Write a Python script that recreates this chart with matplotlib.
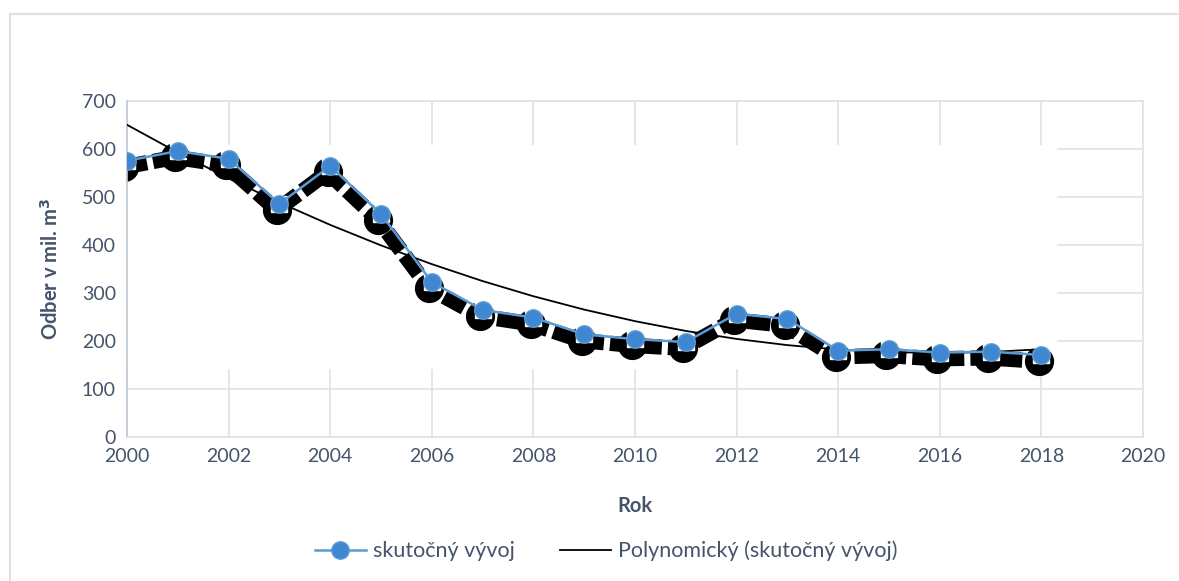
import numpy as np
import matplotlib
matplotlib.use("Agg")
from matplotlib import pyplot as plt
from matplotlib.lines import Line2D
from matplotlib.patches import Rectangle

years = np.arange(2000, 2019)
odber = [576, 596, 580, 486, 565, 465, 323, 265, 249, 214, 204,
         198, 257, 246, 180, 183, 176, 178, 171]
x_ticks = np.arange(2000, 2021, 2)
y_ticks = np.arange(0, 701, 100)

plt.rcParams['font.family'] = ['Lato', 'DejaVu Sans']
txt = '#44546A'
grid_c = '#DDE2EA'

fig = plt.figure(figsize=(11.79, 5.81), dpi=100)
ax = fig.add_axes([0.1077, 0.2478, 0.8617, 0.578])

ax.set_xlim(2000, 2020)
ax.set_ylim(0, 700)
ax.set_xticks(x_ticks)
ax.set_yticks(y_ticks)
ax.grid(True, color=grid_c, linewidth=1.2, zorder=0)
ax.set_axisbelow(True)
for s in ['top', 'right']:
    ax.spines[s].set_visible(False)
ax.spines['left'].set_color('#BFC7D3')
ax.spines['bottom'].set_color(grid_c)
ax.spines['left'].set_linewidth(1.2)
ax.spines['bottom'].set_linewidth(1.2)
ax.tick_params(length=0, labelsize=14, colors=txt, pad=8)
ax.plot([2000, 2020], [700, 700], color=grid_c, lw=1.2, clip_on=False, zorder=0)
ax.plot([2020, 2020], [0, 700], color=grid_c, lw=1.2, clip_on=False, zorder=0)

# white glow behind the series hides part of the grid
yv = np.array(odber)
ax.add_patch(Rectangle((years.min() - 0.6, yv.min() - 30),
                       years.max() - years.min() + 0.9,
                       yv.max() - yv.min() + 42,
                       facecolor='white', edgecolor='none', zorder=1))

# shadow
sx = years - 0.05
sy = yv - 13
ax.plot(sx, sy, color='black', lw=11, ls=(0, (1.5, 0.4)), zorder=2,
        solid_capstyle='butt')
ax.plot(sx, sy, 'o', color='black', markersize=20, zorder=2)
ax.plot(years, yv, 's', color='white', markersize=12, zorder=2.5)

# polynomial trend (order 2)
coef = np.polyfit(years - 2000, yv, 2)
trend = np.polyval(coef, years - 2000)
ax.plot(years, trend, color='black', lw=1.3, zorder=3)

ax.plot(years, yv, color='#5B9BD5', lw=1.8, marker='o', markersize=12.5,
        markerfacecolor='#3F87D0', markeredgecolor='#5B9BD5', zorder=4,
        label='skutočný vývoj')

ax.set_xlabel('Rok', fontsize=14.5, fontweight='bold', color=txt, labelpad=22)
ax.set_ylabel('Odber v mil. m$^\\mathbf{3}$', fontsize=14.5, fontweight='bold',
              color=txt, labelpad=14)

handles = [Line2D([], [], color='#5B9BD5', lw=1.8, marker='o', markersize=12.5,
                  markerfacecolor='#3F87D0', markeredgecolor='#5B9BD5'),
           Line2D([], [], color='black', lw=1.3)]
fig.legend(handles, ['skutočný vývoj', 'Polynomický (skutočný vývoj)'],
           loc='center', bbox_to_anchor=(0.514, 0.052), ncol=2, frameon=False,
           fontsize=15.5, labelcolor=txt, handlelength=2.4, columnspacing=2.1,
           handletextpad=0.3)

# outer chart border
fig.add_artist(Line2D([10 / 1179, 1], [1 - 14 / 581, 1 - 14 / 581],
                      color=grid_c, lw=1.5, transform=fig.transFigure))
fig.add_artist(Line2D([10 / 1179, 10 / 1179], [0, 1 - 14 / 581],
                      color=grid_c, lw=1.5, transform=fig.transFigure))

fig.savefig('out.png', dpi=100)
